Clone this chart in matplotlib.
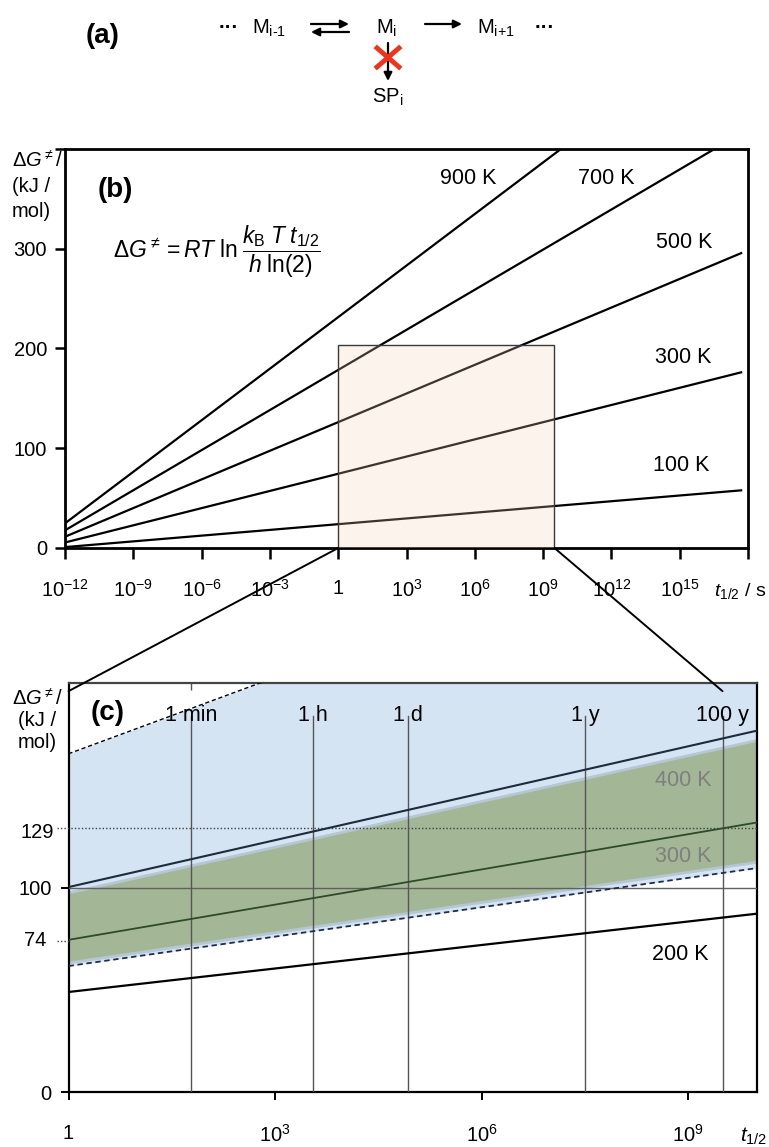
import matplotlib
matplotlib.use("Agg")
import matplotlib.pyplot as plt
from matplotlib.patches import Rectangle, ConnectionPatch, FancyArrowPatch
from matplotlib.lines import Line2D

plt.rcParams['font.family'] = ['Liberation Sans', 'DejaVu Sans']
plt.rcParams['mathtext.fontset'] = 'custom'
plt.rcParams['mathtext.rm'] = 'Liberation Sans'
plt.rcParams['mathtext.it'] = 'Liberation Sans:italic'
plt.rcParams['mathtext.bf'] = 'Liberation Sans:bold'

# panel (b): barrier vs half-life, end points of each isotherm (t = 1e-12 s and 5e17 s)
temps_b = ['100 K', '300 K', '500 K', '700 K', '900 K']
t_b = [1e-12, 5e17]
dg_b_start = [0.9, 5.5, 11.3, 17.7, 24.7]
dg_b_end = [57.8, 176.1, 295.6, 415.7, 536.4]
xt_b = [1e-12, 1e-9, 1e-6, 1e-3, 1, 1e3, 1e6, 1e9, 1e12, 1e15, 1e18]
xl_b = [r'$10^{-12}$', r'$10^{-9}$', r'$10^{-6}$', r'$10^{-3}$', '1', r'$10^{3}$',
        r'$10^{6}$', r'$10^{9}$', r'$10^{12}$', r'$10^{15}$', '']

# panel (c): zoomed window, t = 1 s .. 1e10 s
t_c = [1, 1e10]
dg_200 = [48.9, 87.2]
dg_250 = [61.6, 109.5]
dg_300 = [74.4, 131.8]
dg_400 = [100.2, 176.7]
dg_650 = [165.4, 289.8]
green_low = [63.4, 112.6]
green_high = [97.6, 172.2]
event_labels = ['1 min', '1 h', '1 d', '1 y', '100 y']
event_t = [60, 3600, 86400, 3.156e7, 3.156e9]
xt_c = [1, 1e3, 1e6, 1e9]
xl_c = ['1', r'$10^{3}$', r'$10^{6}$', r'$10^{9}$']

W, H = 769, 1147
fig = plt.figure(figsize=(W / 100, H / 100), dpi=100)


def box(l, t, r, b):
    return [l / W, 1 - b / H, (r - l) / W, (b - t) / H]


def fx(x):
    return x / W


def fy(y):
    return 1 - y / H


# ---------------- (a) reaction scheme ----------------
fig.text(fx(103), fy(36), '(a)', fontsize=20, fontweight='bold', ha='center', va='center')
fs_a = 14.5
fig.text(fx(229), fy(27), '···', fontsize=fs_a, ha='center', va='center', fontweight='bold')
fig.text(fx(252), fy(28), r'M$_{\text{i-1}}$', fontsize=fs_a, ha='left', va='center')
fig.text(fx(376), fy(28), r'M$_{\mathrm{i}}$', fontsize=fs_a, ha='left', va='center')
fig.text(fx(477), fy(28), r'M$_{\text{i+1}}$', fontsize=fs_a, ha='left', va='center')
fig.text(fx(545), fy(27), '···', fontsize=fs_a, ha='center', va='center', fontweight='bold')
fig.text(fx(388), fy(97), r'SP$_{\mathrm{i}}$', fontsize=fs_a, ha='center', va='center')

arr = dict(arrowstyle='-|>', color='black', lw=1.6, mutation_scale=12, shrinkA=0, shrinkB=0)
for (x0, y0), (x1, y1) in [((311, 24), (349, 24)), ((349, 32), (311, 32)),
                           ((425, 24), (462, 24)), ((388, 43), (388, 81))]:
    fig.add_artist(FancyArrowPatch((fx(x0), fy(y0)), (fx(x1), fy(y1)),
                                   transform=fig.transFigure, **arr))
red = '#f0331c'
fig.add_artist(Line2D([fx(377), fx(399)], [fy(48), fy(67)], color=red, lw=3.5, transform=fig.transFigure))
fig.add_artist(Line2D([fx(377), fx(399)], [fy(67), fy(48)], color=red, lw=3.5, transform=fig.transFigure))

# ---------------- (b) overview ----------------
axb = fig.add_axes(box(65, 149, 748, 548))
axb.set_xscale('log')
for i in range(len(temps_b)):
    axb.plot(t_b, [dg_b_start[i], dg_b_end[i]], color='black', lw=1.6, zorder=2)
axb.set_xlim(1e-12, 1e18)
axb.set_ylim(0, 400)
axb.set_xticks(xt_b)
axb.set_xticklabels(xl_b)
axb.minorticks_off()
axb.set_yticks([0, 100, 200, 300, 400])
axb.set_yticklabels(['0', '100', '200', '300', ''])
axb.tick_params(axis='x', direction='out', length=8, width=1.8, labelsize=14.5, pad=14)
axb.tick_params(axis='y', direction='out', length=7, width=1.8, labelsize=14.5, pad=6)
for s in axb.spines.values():
    s.set_linewidth(2)

rect = Rectangle((1, 0), 10 ** 9.5 - 1, 204, facecolor=(0.97, 0.82, 0.72, 0.25),
                 edgecolor='#3a3a3a', lw=1, zorder=3)
axb.add_patch(rect)

lab_b = {'900 K': (468, 178), '700 K': (606, 178), '500 K': (684, 243),
         '300 K': (683, 357), '100 K': (681, 465)}
for k, (x, y) in lab_b.items():
    fig.text(fx(x), fy(y), k, fontsize=15.5, ha='center', va='center')

fig.text(fx(115), fy(190), '(b)', fontsize=20, fontweight='bold', ha='center', va='center')
fig.text(fx(12), fy(186), 'Δ$G^{\\neq}$/\n(kJ /\nmol)', fontsize=14.5, ha='left', va='center',
         linespacing=1.4)
fig.text(fx(113), fy(252), r'$\Delta G^{\neq}=RT\;\mathrm{ln}\;\dfrac{k_{\mathrm{B}}\;T\;t_{1/2}}{h\;\mathrm{ln(2)}}$',
         fontsize=16.5, ha='left', va='center')
fig.text(fx(714), fy(591), r'$t_{1/2}$ / s', fontsize=14, ha='left', va='center')

# ---------------- (c) zoom ----------------
axc = fig.add_axes(box(68.5, 683, 757, 1092))
axc.set_xscale('log')
axc.set_xlim(1, 1e10)
axc.set_ylim(0, 200)

axc.fill_between(t_c, dg_250, dg_650, color='#d5e4f3', lw=0, zorder=1)
axc.fill_between(t_c, green_low, green_high, facecolor='#a3b796', edgecolor='#b6c6d2',
                 lw=2, zorder=2)

axc.axhline(100, color='#606060', lw=1, zorder=3)
axc.plot([-0.017, 1], [129, 129], transform=axc.get_yaxis_transform(), color='#404040',
         lw=1, ls=(0, (1, 1.5)), clip_on=False, zorder=3)
axc.plot([-0.017, 0], [74, 74], transform=axc.get_yaxis_transform(), color='#404040',
         lw=1, ls=(0, (1, 1.5)), clip_on=False, zorder=3)
for et in event_t:
    axc.plot([et, et], [0, 184], color='#555555', lw=1, zorder=3)

axc.plot(t_c, dg_650, color='black', lw=1, ls=(0, (3, 2)), zorder=4)
axc.plot(t_c, dg_250, color='#1f2d4a', lw=1.3, ls=(0, (3, 2)), zorder=4)
axc.plot(t_c, dg_400, color='#1f2b3b', lw=1.5, zorder=4)
axc.plot(t_c, dg_300, color='#2e4a2b', lw=1.3, zorder=4)
axc.plot(t_c, dg_200, color='black', lw=1.6, zorder=4)

axc.set_xticks(xt_c)
axc.set_xticklabels(xl_c)
axc.minorticks_off()
axc.set_yticks([0, 100])
axc.set_yticklabels(['0', '100'])
axc.tick_params(axis='x', direction='out', length=6, width=1.4, labelsize=14.5, pad=17)
axc.tick_params(axis='y', direction='out', length=6, width=1.4, labelsize=14.5, pad=6)
for s in axc.spines.values():
    s.set_linewidth(1.6)
axc.spines['top'].set_color('#444444')

axt = axc.secondary_xaxis('top')
axt.set_xticks(event_t)
axt.set_xticklabels([])
axt.tick_params(direction='in', length=5, width=1, color='#555555')
axt.spines['top'].set_visible(False)

for lab, et in zip(event_labels, event_t):
    axc.text(et, 184, lab, fontsize=15.5, ha='center', va='center', zorder=5)

fig.text(fx(20), fy(832), '129', fontsize=14.5, ha='left', va='center')
fig.text(fx(24), fy(941), '74', fontsize=14.5, ha='left', va='center')
fig.text(fx(683), fy(780), '400 K', fontsize=15.5, ha='center', va='center', color='#7f7f7f')
fig.text(fx(683), fy(856), '300 K', fontsize=15.5, ha='center', va='center', color='#7f7f7f')
fig.text(fx(680), fy(955), '200 K', fontsize=15.5, ha='center', va='center')
fig.text(fx(108), fy(713), '(c)', fontsize=20, fontweight='bold', ha='center', va='center')
fig.text(fx(37), fy(720), 'Δ$G^{\\neq}$/\n(kJ /\nmol)', fontsize=14.5, ha='center', va='center',
         linespacing=1.15)
fig.text(fx(740), fy(1136), r'$t_{1/2}$', fontsize=15, ha='left', va='center')

# zoom connectors
for xb, xc in [(1, 1), (10 ** 9.5, 3.156e9)]:
    con = ConnectionPatch(xyA=(xb, 0), coordsA=axb.transData, xyB=(xc, 196), coordsB=axc.transData,
                          color='black', lw=1.4)
    fig.add_artist(con)

fig.savefig('out.png', dpi=100)
